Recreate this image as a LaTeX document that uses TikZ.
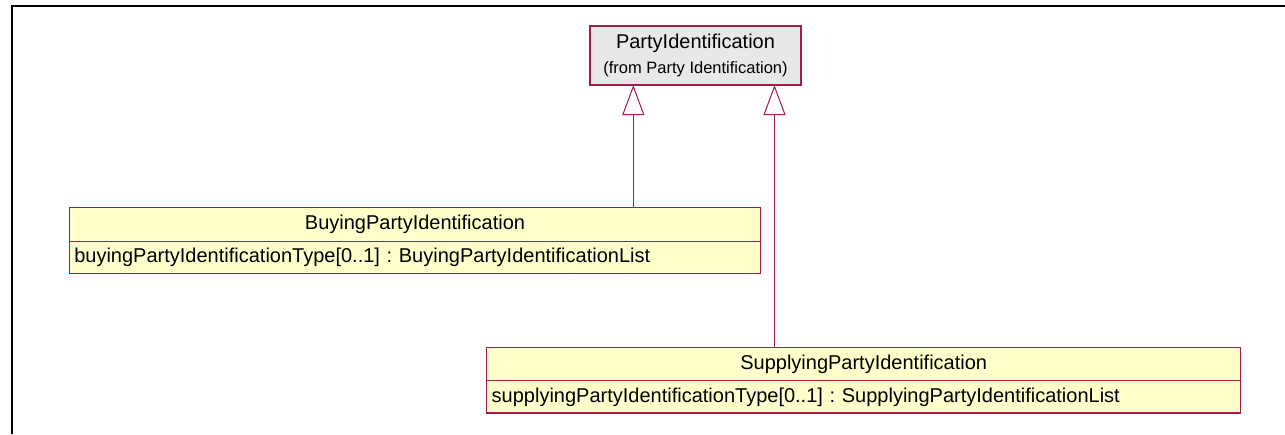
\documentclass[tikz,border=0pt]{standalone}
\usepackage{fontspec}
\setmainfont{Liberation Sans}
\usetikzlibrary{arrows.meta, positioning}
\definecolor{umlred}{RGB}{165,25,75}
\definecolor{classyellow}{RGB}{255,255,204}
\definecolor{refgrey}{RGB}{232,232,232}
\frenchspacing

\begin{document}
\begin{tikzpicture}[
  x=1pt, y=-1pt,
  box/.style={draw=umlred, line width=1.2pt, inner sep=0pt, outer sep=0pt,
              anchor=north west, fill=classyellow,
              font=\fontsize{20}{24}\selectfont, text height=14.5pt, text depth=4.2pt},
  head/.style={box, align=center},
  attr/.style={box, align=left, inner xsep=5pt, text width=#1},
  refbox/.style={box, fill=refgrey, align=center, text height=, text depth=},
  gen/.style={draw=umlred, line width=1pt,
              -{Triangle[open, length=30pt, width=22pt, line width=1pt]}}
]
\useasboundingbox (0,0) rectangle (1285,434);

%--- Frame ---
\draw[line width=2pt] (11.5,434) -- (11.5,6) -- (1285,6);

%--- Classes ---
\node[refbox, minimum width=211pt, minimum height=59pt] (party) at (590,26)
  {PartyIdentification\\[1pt]{\fontsize{16.5}{20}\selectfont (from Party Identification)}};

\node[head, minimum width=691.4pt, minimum height=33.6pt] (buyhead) at (69.3,207.7)
  {BuyingPartyIdentification};
\node[attr=681.4pt, minimum height=32pt] (buyattr) at (buyhead.south west)
  {buyingPartyIdentificationType[0..1] : BuyingPartyIdentificationList};

\node[head, minimum width=754pt, minimum height=33.4pt] (supphead) at (486.7,347.3)
  {SupplyingPartyIdentification};
\node[attr=744pt, minimum height=32.3pt] (suppattr) at (supphead.south west)
  {supplyingPartyIdentificationType[0..1] : SupplyingPartyIdentificationList};

%--- Generalizations ---
\coordinate (buyx) at (633.3,0);
\coordinate (suppx) at (774.5,0);
\draw[gen] (buyhead.north -| buyx) -- (party.south -| buyx);
\draw[gen] (supphead.north -| suppx) -- (party.south -| suppx);

\end{tikzpicture}
\end{document}
